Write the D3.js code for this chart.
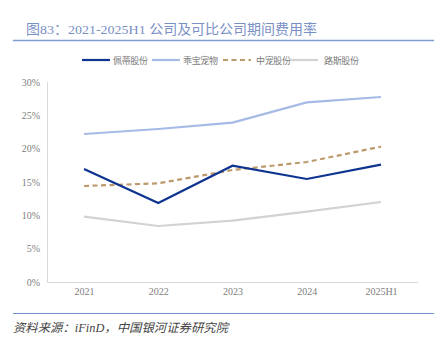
<!DOCTYPE html>
<html><head><meta charset="utf-8">
<script src="https://cdn.jsdelivr.net/npm/d3@7"></script>
<style>body{margin:0;background:#fff}svg{display:block}</style>
</head><body>
<svg id="c" width="443" height="352"></svg>
<script>
const categories = ["2021","2022","2023","2024","2025H1"];
const seriesNames = ["佩蒂股份","乖宝宠物","中宠股份","路斯股份"];
const peti = [16.95, 11.85, 17.45, 15.45, 17.6];
const guaibao = [22.2, 22.95, 23.9, 26.95, 27.75];
const zhongchong = [14.4, 14.8, 16.8, 18.0, 20.3];
const lusi = [9.8, 8.4, 9.2, 10.55, 12.0];
const yTicks = [0, 5, 10, 15, 20, 25, 30];

const seriesValues = [peti, guaibao, zhongchong, lusi];
const colors = ["#0e3490", "#a5bbe6", "#bc9a6c", "#d2d2d2"];
const dashes = [null, null, "5,3.5", null];

const svg = d3.select("#c");
const serif = "'Liberation Serif','Noto Sans CJK SC',serif";
const cjk = "'Noto Sans CJK SC','Liberation Serif',serif";

// Title
svg.append("text").attr("x", 26).attr("y", 34)
  .attr("font-family", serif).attr("font-size", 13.5).attr("fill", "#7a8fc6")
  .attr("textLength", 291).attr("lengthAdjust", "spacingAndGlyphs")
  .text("图83：2021-2025H1 公司及可比公司期间费用率");
svg.append("line").attr("x1", 13).attr("x2", 434).attr("y1", 40.5).attr("y2", 40.5)
  .attr("stroke", "#7f9bd2").attr("stroke-width", 1.5);

const x = d3.scalePoint().domain(categories).range([84, 381]);
const y = d3.scaleLinear().domain([0, 30]).range([282, 82]);

// axes lines
svg.append("line").attr("x1", 47.5).attr("x2", 47.5).attr("y1", 82).attr("y2", 282)
  .attr("stroke", "#d9d9d9");
svg.append("line").attr("x1", 47).attr("x2", 418).attr("y1", 282.5).attr("y2", 282.5)
  .attr("stroke", "#d9d9d9");

// y axis
const yAxis = d3.axisLeft(y).tickValues(yTicks).tickSize(0).tickPadding(0).tickFormat(d => d + "%");
const gy = svg.append("g").attr("transform", "translate(40,0)").call(yAxis);
gy.select(".domain").remove();
gy.selectAll("text").attr("font-family", serif).attr("font-size", 10).attr("fill", "#808080");

// x axis
const xAxis = d3.axisBottom(x).tickSize(0).tickPadding(0);
const gx = svg.append("g").attr("transform", "translate(0,288)").call(xAxis);
gx.select(".domain").remove();
gx.selectAll("text").attr("font-family", serif).attr("font-size", 10).attr("fill", "#808080");

// lines
const line = d3.line().x((d, i) => x(categories[i])).y(d => y(d));
const order = [3, 1, 2, 0];
order.forEach(k => {
  svg.append("path").datum(seriesValues[k]).attr("d", line)
    .attr("fill", "none").attr("stroke", colors[k]).attr("stroke-width", 2.2)
    .attr("stroke-dasharray", dashes[k]);
});

// legend
const legendX = [82, 152, 223, 290];
const legendTX = [113, 183, 256, 324];
seriesNames.forEach((n, i) => {
  const lx = legendX[i];
  svg.append("line").attr("x1", lx).attr("x2", lx + 28).attr("y1", 60).attr("y2", 60)
    .attr("stroke", colors[i]).attr("stroke-width", 2.2).attr("stroke-dasharray", dashes[i]);
  svg.append("text").attr("x", legendTX[i]).attr("y", 63.5)
    .attr("font-family", cjk).attr("font-size", 9).attr("fill", "#7a7a7a")
    .attr("textLength", 35)
    .text(n);
});

// bottom
svg.append("line").attr("x1", 13).attr("x2", 434).attr("y1", 313.5).attr("y2", 313.5)
  .attr("stroke", "#6f8fcf").attr("stroke-width", 1.2);
svg.append("text").attr("x", 13).attr("y", 332)
  .attr("font-family", serif).attr("font-size", 12).attr("font-style", "italic").attr("fill", "#444")
  .attr("textLength", 215).attr("lengthAdjust", "spacingAndGlyphs")
  .text("资料来源：iFinD，中国银河证券研究院");
</script>
</body></html>
